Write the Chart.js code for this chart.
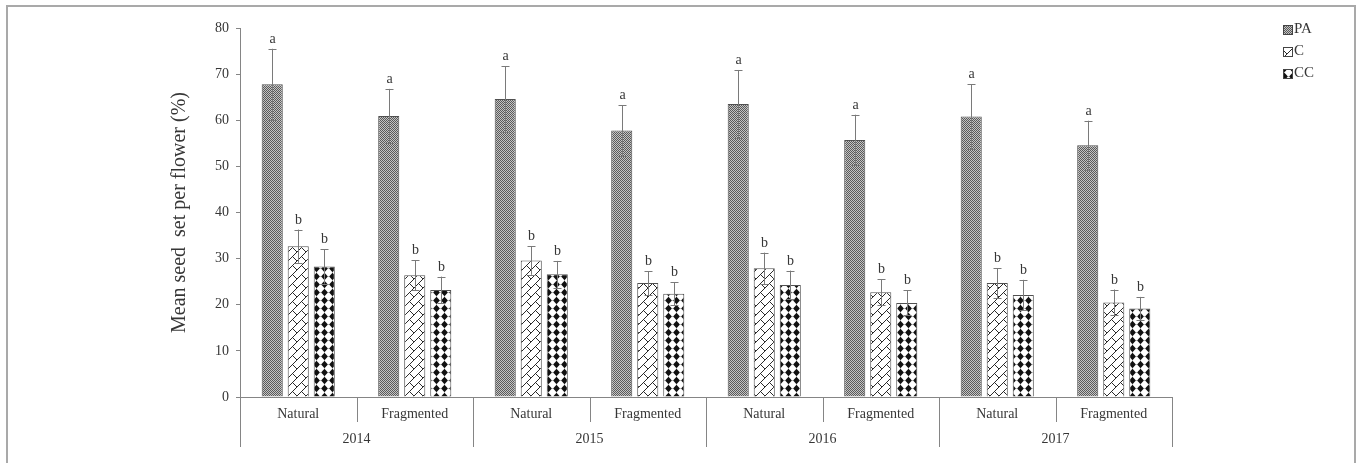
<!DOCTYPE html>
<html>
<head>
<meta charset="utf-8">
<script src="https://cdn.jsdelivr.net/npm/chart.js@4.4.1/dist/chart.umd.min.js"></script>
<style>
  html, body { margin: 0; padding: 0; background: #ffffff; }
  #wrap { position: relative; width: 1356px; height: 463px; overflow: hidden; }
  #frame { position: absolute; left: 6px; top: 5px; width: 1346px; height: 480px;
           border: 2px solid #a9a9a9; border-bottom: none; pointer-events: none; }
  canvas { display: block; }
</style>
</head>
<body>
<div id="wrap">
  <canvas id="c" width="1356" height="463"></canvas>
  <div id="frame"></div>
</div>
<script>
// Study years and habitat types (two habitats per year)
const years = ['2014', '2015', '2016', '2017'];
const habitats = ['Natural', 'Fragmented'];

// Treatments
const seriesNames = ['PA', 'C', 'CC'];

// Mean seed set per flower (%) for each year × habitat, in order
const paMean = [67.8, 60.9, 64.6, 57.8, 63.5, 55.7, 60.8, 54.6];
const cMean  = [32.7, 26.4, 29.6, 24.7, 27.9, 22.7, 24.7, 20.5];
const ccMean = [28.3, 23.2, 26.6, 22.4, 24.3, 20.4, 22.1, 19.2];

// Standard errors
const paErr = [7.7, 5.9, 7.1, 5.5, 7.4, 5.5, 7.0, 5.3];
const cErr  = [3.6, 3.3, 3.1, 2.6, 3.4, 2.8, 3.2, 2.8];
const ccErr = [3.7, 2.9, 2.9, 2.5, 3.1, 2.7, 3.3, 2.5];

// Significance letters
const paLetters = ['a', 'a', 'a', 'a', 'a', 'a', 'a', 'a'];
const cLetters  = ['b', 'b', 'b', 'b', 'b', 'b', 'b', 'b'];
const ccLetters = ['b', 'b', 'b', 'b', 'b', 'b', 'b', 'b'];

// Y axis ticks
const yTicks = [0, 10, 20, 30, 40, 50, 60, 70, 80];

// Category labels: [habitat, year]
const categories = [];
years.forEach(y => habitats.forEach(h => categories.push([h, y])));

const SERIF = '"Liberation Serif", "Times New Roman", serif';
const TEXT = '#363636';
const AXIS = '#858585';

const canvas = document.getElementById('c');
const ctx = canvas.getContext('2d');

// Small repeating fill tiles for the three treatments
function tile(size, draw) {
  const t = document.createElement('canvas');
  t.width = t.height = size;
  const g = t.getContext('2d');
  draw(g, size);
  return ctx.createPattern(t, 'repeat');
}

// Fine stipple (PA)
const patPA = tile(2, (g) => {
  g.fillStyle = '#c4c4c4'; g.fillRect(0, 0, 2, 2);
  g.fillStyle = '#5a5a5a'; g.fillRect(0, 0, 1, 1); g.fillRect(1, 1, 1, 1);
});

// Diagonal brick (C)
const patC = tile(9, (g, s) => {
  g.fillStyle = '#ffffff'; g.fillRect(0, 0, s, s);
  g.strokeStyle = '#2a2a2a'; g.lineWidth = 1;
  const segs = [[0, s, s, 0], [s / 2, s / 2, s, s]];
  for (const dx of [-s, 0, s]) for (const dy of [-s, 0, s]) {
    for (const [x1, y1, x2, y2] of segs) {
      g.beginPath(); g.moveTo(x1 + dx, y1 + dy); g.lineTo(x2 + dx, y2 + dy); g.stroke();
    }
  }
});

// Solid diamonds (CC)
const patCC = tile(8, (g, s) => {
  g.fillStyle = '#ffffff'; g.fillRect(0, 0, s, s);
  g.fillStyle = '#bdbdbd';
  g.fillRect(0, 4, 1, 1); g.fillRect(4, 0, 1, 1);
  g.fillStyle = '#111111';
  g.beginPath();
  g.moveTo(4.5, 0.8); g.lineTo(7.9, 4.5); g.lineTo(4.5, 8.2); g.lineTo(1.1, 4.5);
  g.closePath(); g.fill();
});

const means = [paMean, cMean, ccMean];
const errs = [paErr, cErr, ccErr];
const letters = [paLetters, cLetters, ccLetters];
const fills = [patPA, patC, patCC];

// Error bars and letters above each bar
const errorBarPlugin = {
  id: 'errorBars',
  afterDatasetsDraw(chart) {
    const g = chart.ctx;
    const y = chart.scales.y;
    g.save();
    chart.data.datasets.forEach((ds, di) => {
      const meta = chart.getDatasetMeta(di);
      meta.data.forEach((bar, i) => {
        const m = ds.data[i];
        const e = ds.errors[i];
        const top = y.getPixelForValue(m + e);
        const bot = y.getPixelForValue(m - e);
        const x = Math.round(bar.x) + 0.5;
        g.strokeStyle = '#7a7a7a';
        g.lineWidth = 1;
        g.beginPath();
        g.moveTo(x, bot); g.lineTo(x, top);
        g.moveTo(x - 4, Math.round(top) + 0.5); g.lineTo(x + 4, Math.round(top) + 0.5);
        g.moveTo(x - 4, Math.round(bot) + 0.5); g.lineTo(x + 4, Math.round(bot) + 0.5);
        g.stroke();
        g.fillStyle = TEXT;
        g.font = '14px ' + SERIF;
        g.textAlign = 'center';
        g.textBaseline = 'alphabetic';
        g.fillText(ds.letters[i], x, top - 6);
      });
    });
    g.restore();
  }
};

// Two-level category axis: habitat row, year row and separators
const groupAxisPlugin = {
  id: 'groupAxis',
  afterDraw(chart) {
    const g = chart.ctx;
    const xs = chart.scales.x;
    const area = chart.chartArea;
    const n = chart.data.labels.length;
    const w = (xs.right - xs.left) / n;
    const base = area.bottom;
    g.save();
    g.strokeStyle = AXIS;
    g.lineWidth = 1;
    g.fillStyle = TEXT;
    g.textAlign = 'center';
    g.textBaseline = 'middle';
    // separators
    for (let i = 0; i <= n; i++) {
      const bx = Math.round(xs.left + i * w) + 0.5;
      const yearEdge = i === 0 || i === n || chart.data.labels[i][1] !== chart.data.labels[i - 1][1];
      g.beginPath();
      g.moveTo(bx, base);
      g.lineTo(bx, base + (yearEdge ? 50 : 25));
      g.stroke();
    }
    // habitat labels
    g.font = '14px ' + SERIF;
    chart.data.labels.forEach((lab, i) => {
      g.fillText(lab[0], xs.getPixelForValue(i), base + 17);
    });
    // year labels centred under their habitats
    let start = 0;
    for (let i = 1; i <= n; i++) {
      if (i === n || chart.data.labels[i][1] !== chart.data.labels[start][1]) {
        const cx = xs.left + (start + i) / 2 * w;
        g.fillText(chart.data.labels[start][1], cx, base + 42);
        start = i;
      }
    }
    g.restore();
  }
};

// Legend in the upper right corner
const legendPlugin = {
  id: 'cornerLegend',
  afterDraw(chart) {
    const g = chart.ctx;
    g.save();
    g.font = '15px ' + SERIF;
    g.textBaseline = 'middle';
    g.textAlign = 'left';
    chart.data.datasets.forEach((ds, i) => {
      const cy = 29 + i * 22;
      g.fillStyle = ds.backgroundColor;
      g.fillRect(1283, cy - 4, 9, 9);
      g.strokeStyle = '#444';
      g.lineWidth = 1;
      g.strokeRect(1283.5, cy - 3.5, 9, 9);
      g.fillStyle = TEXT;
      g.fillText(ds.label, 1294, cy + 0.5);
    });
    g.restore();
  }
};

new Chart(ctx, {
  type: 'bar',
  data: {
    labels: categories,
    datasets: seriesNames.map((name, k) => ({
      label: name,
      data: means[k],
      errors: errs[k],
      letters: letters[k],
      backgroundColor: fills[k],
      borderColor: '#505050',
      borderWidth: 1,
      categoryPercentage: 0.67,
      barPercentage: 0.81
    }))
  },
  options: {
    responsive: false,
    animation: false,
    devicePixelRatio: 1,
    layout: { padding: { left: 165, right: 184, top: 28, bottom: 0 } },
    plugins: {
      legend: { display: false },
      tooltip: { enabled: false }
    },
    scales: {
      x: {
        type: 'category',
        offset: true,
        grid: { display: false },
        border: { display: true, color: AXIS, width: 1 },
        ticks: { display: false },
        afterFit(s) { s.height = 66; }
      },
      y: {
        min: 0,
        max: 80,
        afterBuildTicks(s) { s.ticks = yTicks.map(v => ({ value: v })); },
        grid: { drawOnChartArea: false, drawTicks: true, tickLength: 4, color: AXIS },
        border: { display: true, color: AXIS, width: 1 },
        ticks: { color: TEXT, font: { family: SERIF, size: 14 }, padding: 7 },
        title: {
          display: true,
          text: 'Mean seed  set per flower (%)',
          color: TEXT,
          font: { family: SERIF, size: 20 },
          padding: { top: 3, bottom: 0 }
        },
        afterFit(s) { s.width = 75; }
      }
    }
  },
  plugins: [errorBarPlugin, groupAxisPlugin, legendPlugin]
});
</script>
</body>
</html>
